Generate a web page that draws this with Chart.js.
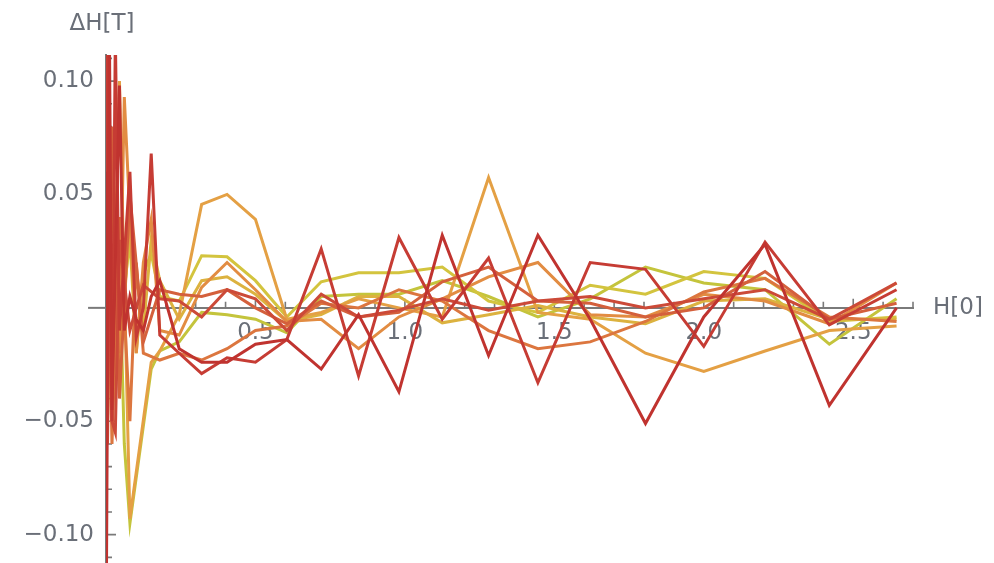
<!DOCTYPE html>
<html>
<head>
<meta charset="utf-8">
<script src="https://cdn.jsdelivr.net/npm/chart.js@4.4.1/dist/chart.umd.min.js"></script>
<style>
  html, body { margin: 0; padding: 0; background: #ffffff; }
  #wrap { width: 994px; height: 563px; }
</style>
</head>
<body>
<div id="wrap"><canvas id="chart" width="994" height="563"></canvas></div>
<script>
// Applied field H[0] at which each residual was sampled
const fieldH = [0, 0.00125, 0.005, 0.01125, 0.02, 0.03125, 0.045, 0.06125, 0.08, 0.10125,
  0.125, 0.15125, 0.18, 0.21125, 0.245, 0.32, 0.405, 0.5, 0.605, 0.72,
  0.845, 0.98, 1.125, 1.28, 1.445, 1.62, 1.805, 2.0, 2.205, 2.42, 2.645];

// Residuals ΔH[T], one curve per run (null = no sample at that field)
const dH1 = [0.0, null, 0.03, null, -0.03, null, 0.02, -0.06, -0.095, null, null, -0.027, -0.019, null, -0.015,
  -0.002, -0.003, -0.005, -0.011, 0.005, 0.006, 0.006, 0.012, 0.005, -0.004, 0.004, 0.018, 0.011, 0.008, -0.016, 0.004];
const dH2 = [0.0, null, -0.02, null, 0.05, null, -0.01, null, 0.03, -0.02, 0.015, 0.024, 0.005, null, 0.003,
  0.023, 0.0225, 0.012, -0.004, 0.0115, 0.0155, 0.0155, 0.018, 0.003, -0.002, 0.01, 0.006, 0.016, 0.013, -0.006, -0.004];
const dH3 = [0.0, null, -0.05, null, 0.06, null, -0.03, null, 0.04, null, -0.01, 0.03, 0.012, null, -0.005,
  0.012, 0.0137, 0.006, -0.006, -0.003, 0.005, 0.005, -0.0066, -0.003, 0.001, -0.004, -0.007, 0.003, 0.004, -0.005, -0.005];
const dH4 = [0.0, null, 0.06, null, -0.03, null, 0.1, null, -0.093, null, null, -0.024, -0.019, null, -0.003,
  0.0456, 0.05, 0.039, -0.005, -0.002, 0.004, 0.0, -0.004, 0.0575, -0.002, -0.005, -0.02, -0.028, -0.019, -0.01, -0.008];
const dH5 = [0.0, null, -0.04, null, 0.07, null, -0.02, 0.093, null, -0.02, 0.02, 0.039, -0.01, null, -0.012,
  0.009, 0.02, 0.008, -0.006, -0.005, -0.018, -0.004, 0.004, 0.0137, 0.02, -0.003, -0.004, 0.006, 0.003, -0.007, 0.011];
const dH6 = [0.0, null, 0.05, null, -0.06, null, 0.04, null, -0.05, 0.02, -0.02, null, -0.023, null, -0.02,
  -0.023, -0.018, -0.01, -0.008, 0.002, 0.0, 0.008, 0.003, -0.01, -0.018, -0.015, -0.006, 0.007, 0.013, -0.004, -0.006];
const dH7 = [0.0, null, -0.06, null, 0.08, null, -0.04, null, 0.05, null, -0.015, null, 0.008, null, 0.006,
  0.005, 0.008, 0.0, -0.007, 0.003, -0.004, -0.002, 0.0115, 0.018, 0.003, 0.002, -0.004, 0.0, 0.016, -0.005, 0.002];
const dH8 = [0.02, null, -0.05, 0.06, -0.05, -0.055, 0.03, null, -0.01, 0.0, 0.01, null, 0.004, null, 0.003,
  -0.004, 0.008, 0.004, -0.01, 0.006, -0.004, -0.001, 0.004, -0.001, 0.003, 0.005, 0.0, 0.004, 0.008, -0.005, 0.011];
const dH9 = [-0.125, null, 0.125, null, -0.05, 0.12, -0.01, null, 0.06, -0.013, 0.0, 0.068, -0.012, null, -0.02,
  -0.029, -0.022, -0.024, -0.014, 0.026, -0.03, 0.031, -0.005, 0.022, -0.033, 0.02, 0.017, -0.017, 0.029, -0.0075, 0.008];
const dH10 = [0.06, -0.125, null, 0.125, -0.045, null, 0.098, -0.01, 0.005, -0.005, -0.01, 0.005, 0.012, null, -0.018,
  -0.024, -0.024, -0.016, -0.014, -0.027, -0.003, -0.037, 0.032, -0.021, 0.032, -0.005, -0.051, -0.004, 0.028, -0.043, 0.0];

const curves = [dH1, dH2, dH3, dH4, dH5, dH6, dH7, dH8, dH9, dH10];
const lineColors = ['#c4c43c', '#d3c43e', '#dcb23f', '#e4a044', '#e28c42',
  '#dc763f', '#d4603c', '#cc4a38', '#c63c34', '#c0332f'];

// Labelled ticks
const xTickValues = [0.5, 1.0, 1.5, 2.0, 2.5];
const yTickValues = [-0.10, -0.05, 0.05, 0.10];

const AXIS_COLOR = '#7a7a7a';
const TEXT_COLOR = '#6a6f78';
const FONT = { family: "'DejaVu Sans', sans-serif", size: 23 };

// Minor/major tick marks drawn inward, plus axis titles and the short x-axis lead-in
const axisDecor = {
  id: 'axisDecor',
  beforeDatasetsDraw(chart) {
    const { ctx, chartArea, scales: { x, y } } = chart;
    const y0 = y.getPixelForValue(0);
    const x0 = x.getPixelForValue(0);
    const unitX = x.getPixelForValue(1) - x0;
    ctx.save();
    ctx.strokeStyle = AXIS_COLOR;
    ctx.lineCap = 'butt';
    // x axis continues slightly left of the vertical axis
    ctx.lineWidth = 2;
    ctx.beginPath();
    ctx.moveTo(x0 - 0.06 * unitX, y0);
    ctx.lineTo(x0, y0);
    ctx.stroke();

    ctx.lineWidth = 1.6;
    ctx.beginPath();
    for (let k = 1; k <= 27; k++) {
      const px = x.getPixelForValue(k / 10);
      const len = k % 5 === 0 ? 9 : 6;
      ctx.moveTo(px, y0);
      ctx.lineTo(px, y0 - len);
    }
    for (let k = -11; k <= 11; k++) {
      if (k === 0) continue;
      const py = y.getPixelForValue(k / 100);
      const len = k % 5 === 0 ? 10 : 6;
      ctx.moveTo(x0, py);
      ctx.lineTo(x0 + len, py);
    }
    ctx.stroke();

    ctx.fillStyle = TEXT_COLOR;
    ctx.font = `${FONT.size}px ${FONT.family}`;
    ctx.textBaseline = 'middle';
    ctx.textAlign = 'center';
    ctx.fillText('\u0394H[T]', x0 - 4, chartArea.top - 31);
    ctx.textAlign = 'left';
    ctx.fillText('H[0]', chartArea.right + 20, y0);
    ctx.restore();
  }
};

const datasets = curves.map((vals, i) => ({
  data: fieldH.map((h, j) => ({ x: h, y: vals[j] })),
  borderColor: lineColors[i],
  backgroundColor: lineColors[i],
  borderWidth: 3,
  pointRadius: 0,
  tension: 0,
  spanGaps: true,
  fill: false,
  order: curves.length - i
}));

new Chart(document.getElementById('chart'), {
  type: 'line',
  data: { datasets },
  plugins: [axisDecor],
  options: {
    responsive: false,
    animation: false,
    devicePixelRatio: 1,
    layout: { padding: { left: 0, right: 81, top: 55, bottom: 0 } },
    plugins: { legend: { display: false }, tooltip: { enabled: false } },
    scales: {
      x: {
        type: 'linear',
        min: 0,
        max: 2.7,
        position: { y: 0 },
        grid: { display: false, drawTicks: false },
        border: { display: true, color: AXIS_COLOR, width: 2 },
        afterBuildTicks: s => { s.ticks = xTickValues.map(v => ({ value: v })); },
        afterFit: s => { s.paddingLeft = 0; s.paddingRight = 0; },
        ticks: {
          autoSkip: false,
          maxRotation: 0,
          padding: 11,
          color: TEXT_COLOR,
          font: FONT,
          callback: v => Number(v).toFixed(1)
        }
      },
      y: {
        type: 'linear',
        min: -0.1125,
        max: 0.1115,
        position: 'left',
        afterFit: s => { s.width = 106; s.paddingTop = 0; s.paddingBottom = 0; },
        grid: { display: false, drawTicks: false },
        border: { display: true, color: AXIS_COLOR, width: 2 },
        afterBuildTicks: s => { s.ticks = yTickValues.map(v => ({ value: v })); },
        ticks: {
          padding: 12,
          color: TEXT_COLOR,
          font: FONT,
          callback: v => (v < 0 ? '\u2212' : '') + Math.abs(v).toFixed(2)
        }
      }
    }
  }
});
</script>
</body>
</html>
